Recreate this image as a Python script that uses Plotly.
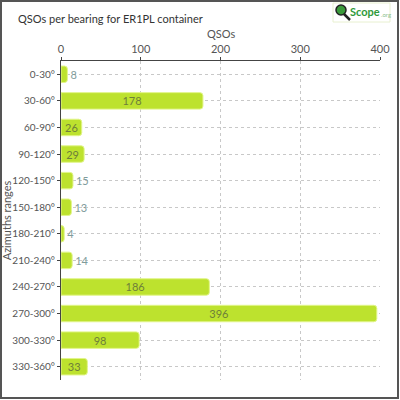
import plotly.graph_objects as go

categories = ["0-30°", "30-60°", "60-90°", "90-120°", "120-150°", "150-180°",
              "180-210°", "210-240°", "240-270°", "270-300°", "300-330°", "330-360°"]
values = [8, 178, 26, 29, 15, 13, 4, 14, 186, 396, 98, 33]
x_ticks = [0, 100, 200, 300, 400]

W, H = 400, 400
L, R, T, B = 61, 20, 61, 20
pw, ph = W - L - R, H - T - B

FONT = "Lato"

fig = go.Figure()
fig.add_trace(go.Bar(
    y=categories, x=values, orientation="h",
    marker=dict(color="#bde22e", line=dict(color="#e2f58a", width=1), cornerradius=3),
    width=0.62,
    text=[str(v) for v in values],
    textposition="auto",
    textangle=0,
    insidetextanchor="middle",
    insidetextfont=dict(family=FONT, size=11, color="#6e7f3a"),
    outsidetextfont=dict(family=FONT, size=11, color="#7f9c9c"),
    cliponaxis=False,
))

def px(xp):
    return (xp - L) / pw

def py(yp):
    return (H - B - yp) / ph

shapes = [
    dict(type="rect", xref="paper", yref="paper",
         x0=px(1), x1=px(398), y0=py(1), y1=py(398),
         line=dict(color="#555555", width=2), layer="above"),
    dict(type="rect", xref="paper", yref="paper",
         x0=px(333), x1=px(390), y0=py(3), y1=py(22),
         line=dict(color="#e8f0d0", width=1), fillcolor="white"),
    dict(type="circle", xref="paper", yref="paper",
         x0=px(336), x1=px(346), y0=py(5), y1=py(15),
         line=dict(color="#222222", width=1.5), fillcolor="#3a9a3a"),
    dict(type="line", xref="paper", yref="paper",
         x0=px(344), x1=px(350), y0=py(14), y1=py(20),
         line=dict(color="#222222", width=2.5)),
]

annotations = [
    dict(text="QSOs per bearing for ER1PL container", xref="paper", yref="paper",
         x=px(16), y=py(18), xanchor="left", yanchor="middle", showarrow=False,
         font=dict(family=FONT, size=11, color="#333333")),
    dict(text="<b>Scope</b>", xref="paper", yref="paper",
         x=px(348), y=py(12), xanchor="left", yanchor="middle", showarrow=False,
         font=dict(family=FONT, size=11, color="#2e9a3a")),
    dict(text=".org", xref="paper", yref="paper",
         x=px(379), y=py(15), xanchor="left", yanchor="middle", showarrow=False,
         font=dict(family=FONT, size=6, color="#8cc08c")),
    dict(text="QSOs", xref="paper", yref="paper",
         x=0.5, y=py(34), xanchor="center", yanchor="middle", showarrow=False,
         font=dict(family=FONT, size=11, color="#555555")),
]

fig.update_layout(
    width=W, height=H,
    margin=dict(l=L, r=R, t=T, b=B, pad=0),
    paper_bgcolor="white", plot_bgcolor="white",
    showlegend=False,
    font=dict(family=FONT, color="#555555", size=10),
    uniformtext=dict(minsize=10, mode="show"),
    shapes=shapes, annotations=annotations,
    xaxis=dict(
        side="top", range=[0, 400], tickvals=x_ticks, automargin=False,
        showgrid=True, gridcolor="#c8c8c8", griddash="3px,3px", gridwidth=1,
        zeroline=False, showline=True, linecolor="#444444", linewidth=1,
        ticks="outside", ticklen=3, tickcolor="#444444",
        tickfont=dict(family=FONT, size=11, color="#555555"),
    ),
    yaxis=dict(
        autorange="reversed", type="category", automargin=False,
        showgrid=True, gridcolor="#c8c8c8", griddash="3px,3px", gridwidth=1,
        showline=True, linecolor="#444444", linewidth=1,
        ticks="outside", ticklen=3, tickcolor="#444444",
        tickfont=dict(family=FONT, size=10, color="#555555"),
        title=dict(text="Azimuths ranges", font=dict(family=FONT, size=11, color="#555555"), standoff=0),
    ),
)

fig.write_html("out.html")
